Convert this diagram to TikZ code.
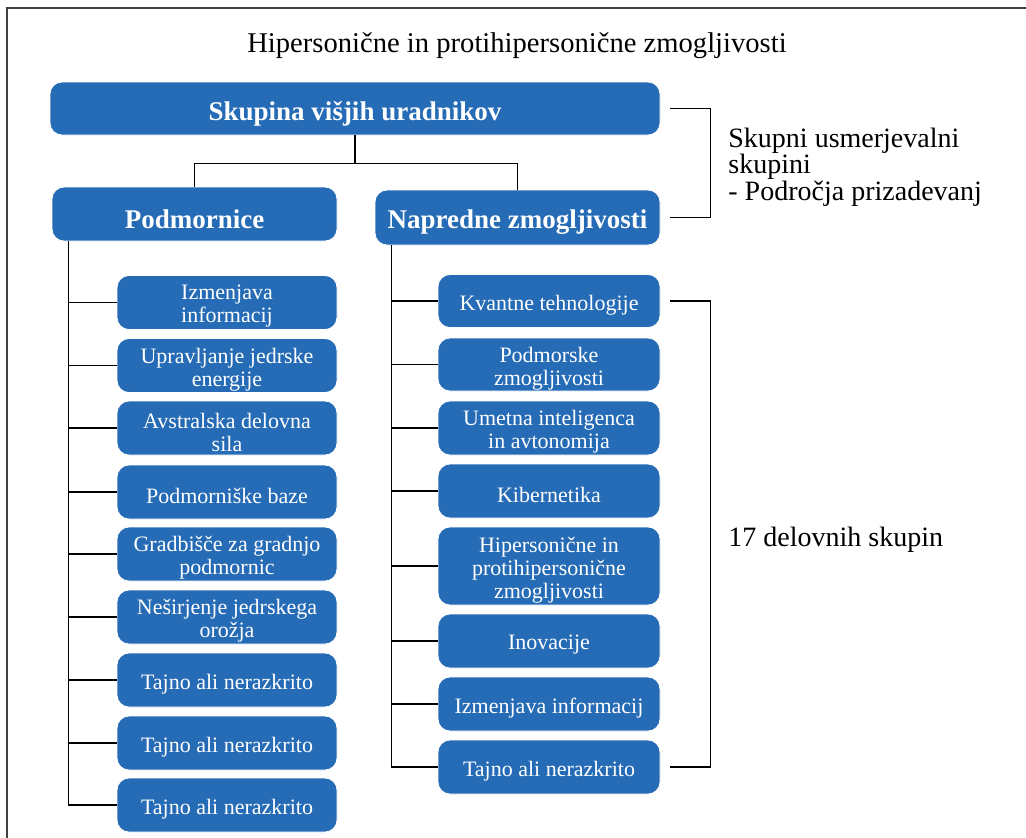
\documentclass[tikz,border=0pt]{standalone}
\usepackage{fontspec}
\setmainfont{Liberation Serif}
\definecolor{boxblue}{RGB}{38,107,181}
\tikzset{
  box/.style={fill=boxblue, draw=white, rounded corners=6pt, inner sep=2pt},
  boxtext/.style={text=white, align=center, inner sep=0pt, yshift=-2pt, font=\fontsize{11}{11.5}\selectfont},
  headtext/.style={boxtext, yshift=-0.5pt, font=\fontsize{13.5}{15}\selectfont\bfseries},
  link/.style={black, line width=0.6pt}
}

\begin{document}
\begin{tikzpicture}[x=0.5pt, y=-0.5pt]
  \useasboundingbox (0,0) rectangle (1026,837);
  \clip (0,0) rectangle (1026,837);
  \draw[black!75, line width=0.8pt] (7,8) rectangle (1040,850);

  \node[font=\fontsize{14.3}{16}\selectfont] (title) at (517,46) {Hipersonične in protihipersonične zmogljivosti};

  \node[box, minimum width=305pt, minimum height=26.5pt, label={[headtext]center:Skupina višjih uradnikov}] (vodstvo) at (355,108.5) {};
  \node[box, minimum width=142.5pt, minimum height=27pt, label={[headtext]center:Podmornice}] (podm) at (194.5,214) {};
  \node[box, minimum width=142.5pt, minimum height=27.5pt, label={[headtext]center:Napredne zmogljivosti}] (napr) at (517.5,217.5) {};

  \draw[link] (vodstvo.south) -- ++(0,28) -| (podm.north);
  \draw[link] (vodstvo.south) ++(0,28) -| (napr.north);

  % podmornice
  \foreach \y/\txt [count=\i] in {302.5/{Izmenjava\\informacij}, 365.5/{Upravljanje jedrske\\energije}, 428/{Avstralska delovna\\sila}, 492/{Podmorniške baze}, 554/{Gradbišče za gradnjo\\podmornic}, 617/{Neširjenje jedrskega\\orožja}, 680/{Tajno ali nerazkrito}, 743/{Tajno ali nerazkrito}, 805/{Tajno ali nerazkrito}}
  {
    \node[box, minimum width=110pt, minimum height=27pt, label={[boxtext]center:{\txt}}] (p\i) at (227,\y) {};
    \draw[link] ([xshift=8.5pt]podm.south west) |- (p\i.west);
  }

  % napredne zmogljivosti
  \foreach \y/\h/\txt [count=\i] in {301/26.5/{Kvantne tehnologije}, 364.5/26.5/{Podmorske\\zmogljivosti}, 428/27/{Umetna inteligenca\\in avtonomija}, 491/27/{Kibernetika}, 566/39/{Hipersonične in\\protihipersonične\\zmogljivosti}, 641/27/{Inovacije}, 704/27/{Izmenjava informacij}, 767/27/{Tajno ali nerazkrito}}
  {
    \node[box, minimum width=111pt, minimum height=\h pt, label={[boxtext]center:{\txt}}] (n\i) at (549,\y) {};
    \draw[link] ([xshift=8.5pt]napr.south west) |- (n\i.west);
  }

  \draw[link] ([xshift=5pt]vodstvo.east) -- ++(40,0) |- ([xshift=5pt]napr.east);
  \draw[link] ([xshift=5pt]n1.east) -- ++(40,0) |- ([xshift=5pt]n8.east);

  \node[anchor=west, align=left, inner sep=0pt, font=\fontsize{14}{13.3}\selectfont] (usmer) at (728,167) {Skupni usmerjevalni\\skupini\\- Področja prizadevanj};
  \node[anchor=west, inner sep=0pt, font=\fontsize{14}{16}\selectfont] (delovne) at (728,540) {17 delovnih skupin};
\end{tikzpicture}
\end{document}
